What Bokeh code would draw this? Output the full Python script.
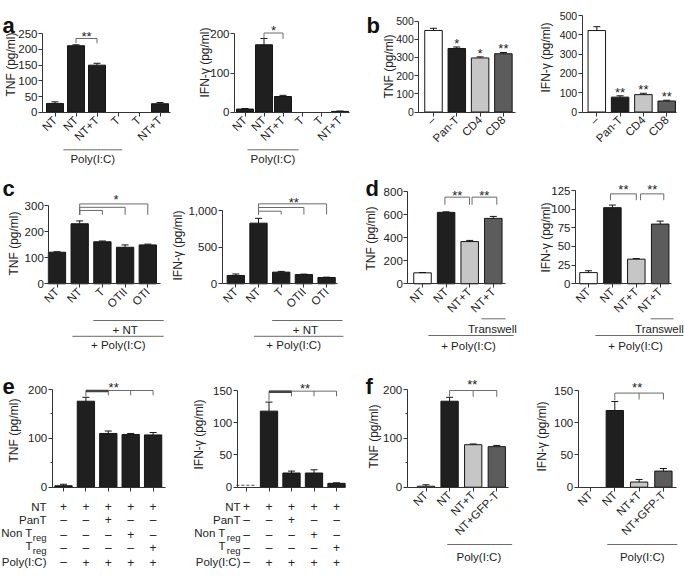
import math
from bokeh.plotting import figure
from bokeh.models import Range1d, FixedTicker, NumeralTickFormatter, CustomJSTickFormatter
from bokeh.layouts import row, column
from bokeh.core.properties import value
from bokeh.embed import file_html
from bokeh.resources import INLINE

# ---------------- data ----------------
a_cats = ["NT", "NT", "NT+T", "T", "T", "NT+T"]
a_tnf = [28, 212, 150, 0, 0, 27]
a_tnf_err = [5, 3, 6, 0, 0, 4]
a_ifn = [8, 172, 40, 0, 0, 2]
a_ifn_err = [1.5, 16, 3, 0, 0, 1]

b_cats = ["–", "Pan-T", "CD4", "CD8"]
b_tnf = [448, 349, 297, 320]
b_tnf_err = [12, 8, 6, 7]
b_tnf_sig = ["", "*", "*", "**"]
b_ifn = [422, 77, 90, 57]
b_ifn_err = [20, 7, 7, 4]
b_ifn_sig = ["", "**", "**", "**"]

c_cats = ["NT", "NT", "T", "OTII", "OTI"]
c_tnf = [121, 230, 161, 140, 149]
c_tnf_err = [2, 11, 3, 9, 3]
c_ifn = [114, 827, 159, 126, 86]
c_ifn_err = [20, 66, 10, 6, 4]

d_cats = ["NT", "NT", "NT+T", "NT+T"]
d_tnf = [95, 619, 366, 567]
d_tnf_err = [3, 5, 10, 17]
d_ifn = [15, 102, 33, 80]
d_ifn_err = [2.5, 3.5, 0.8, 4]

e_cats = ["", "", "", "", ""]
e_tnf = [3, 176, 110, 108, 107]
e_tnf_err = [3, 8, 5, 2, 5]
e_ifn = [3, 118, 22, 22, 6]
e_ifn_err = [0, 14, 3, 5, 0.8]
e_rows = ["NT", "PanT", "Non T", "T", "Poly(I:C)"]
e_rows_sub = ["", "", "reg", "reg", ""]
e_table = [["+", "+", "+", "+", "+"],
           ["–", "–", "+", "–", "–"],
           ["–", "–", "–", "+", "–"],
           ["–", "–", "–", "–", "+"],
           ["–", "+", "+", "+", "+"]]

f_cats = ["NT", "NT", "NT+T", "NT+GFP-T"]
f_tnf = [2, 176, 87, 83]
f_tnf_err = [3, 8, 1.5, 2.5]
f_ifn = [0, 119, 8, 25]
f_ifn_err = [0, 14, 4, 4]

# ---------------- style ----------------
FONT = "Liberation Sans"
INK = "#222222"
AXC = "#333333"
GL = "#6a6a6a"
BLACK = "#1f1f1f"
WHITE = "#ffffff"
LIGHT = "#c6c6c6"
DARK = "#5c5c5c"

ROWS = [0, 170, 372, 577]
COLS = [[0, 185, 358, 533, 685], [0, 168, 350, 533, 685], [0, 185, 350, 533, 685]]


class Panel:
    def __init__(self, r, k, c0, dx, py0, pyV, V, ax_px, xend_px, yticks, ylabel, lab_px,
                 labels, bar_px, yfmt=None, minor=None, tick_size="11.5px"):
        self.c0, self.dx, self.py0 = c0, dx, py0
        self.ppy = (py0 - pyV) / V
        rx0, rx1 = COLS[r][k], COLS[r][k + 1]
        ry0, ry1 = ROWS[r], ROWS[r + 1]
        self.bw = bar_px / dx
        p = figure(width=rx1 - rx0, height=ry1 - ry0,
                   x_range=Range1d(self.X(rx0), self.X(rx1)),
                   y_range=Range1d(self.Y(ry1), self.Y(ry0)),
                   output_backend="svg", toolbar_location=None, tools="", min_border=0)
        p.outline_line_color = None
        p.background_fill_color = "white"
        p.border_fill_color = "white"
        p.xgrid.visible = False
        p.ygrid.visible = False
        self.p = p
        xa = p.xaxis[0]
        ya = p.yaxis[0]
        xa.fixed_location = 0
        xa.bounds = (self.X(ax_px), self.X(xend_px))
        xa.ticker = FixedTicker(ticks=list(range(len(labels))))
        xa.formatter = CustomJSTickFormatter(
            args=dict(labels=list(labels)),
            code="const i = Math.round(tick); return (i >= 0 && i < labels.length) ? labels[i] : '';")
        xa.major_label_orientation = math.pi / 4
        xa.major_label_standoff = 2
        xa.major_tick_out = 4
        xa.major_tick_in = 0
        xa.minor_tick_line_color = None
        xa.axis_line_color = AXC
        xa.major_tick_line_color = AXC
        xa.major_label_text_font = FONT
        xa.major_label_text_font_size = "11.5px"
        xa.major_label_text_color = INK

        ya.fixed_location = self.X(ax_px)
        ya.bounds = (0, yticks[-1])
        ya.ticker = FixedTicker(ticks=list(yticks), minor_ticks=list(minor or []))
        if yfmt:
            ya.formatter = NumeralTickFormatter(format=yfmt)
        ya.major_tick_out = 4
        ya.major_tick_in = 0
        ya.minor_tick_out = 2
        ya.minor_tick_in = 0
        ya.minor_tick_line_color = AXC if minor else None
        ya.axis_line_color = AXC
        ya.major_tick_line_color = AXC
        ya.major_label_standoff = 1
        ya.major_label_text_font = FONT
        ya.major_label_text_font_size = tick_size
        ya.major_label_text_color = INK
        # axis title as rotated text at its place in the reference
        self.p.text(x=[self.X(lab_px[0])], y=[self.Y(lab_px[1])], text=[ylabel],
                    angle=math.pi / 2, text_font=value(FONT), text_font_size=value("12px"),
                    text_align="center", text_baseline="middle", text_color=INK)

    def X(self, px):
        return (px - self.c0) / self.dx

    def Y(self, py):
        return (self.py0 - py) / self.ppy

    def vx(self, px):
        return px / self.dx

    def vy(self, px):
        return px / self.ppy

    def bars(self, vals, errs, colors, skip=()):
        idx = [i for i in range(len(vals)) if vals[i] > 0 and i not in skip]
        self.p.vbar(x=idx, top=[vals[i] for i in idx], bottom=0, width=self.bw,
                    fill_color=[colors[i] for i in idx], line_color="#151515", line_width=1)
        ek = [i for i in range(len(vals)) if errs[i] > 0 and i not in skip]
        top = [vals[i] for i in ek]
        etop = [vals[i] + errs[i] for i in ek]
        self.p.segment(x0=ek, y0=top, x1=ek, y1=etop, line_color="#151515", line_width=1)
        cw = self.vx(3.5)
        self.p.segment(x0=[i - cw for i in ek], y0=etop, x1=[i + cw for i in ek], y1=etop,
                       line_color="#151515", line_width=1)

    def text(self, xs, ys, texts, size="11.5px", align="center", baseline="middle",
             style="normal", color=INK):
        self.p.text(x=xs, y=ys, text=texts, text_font=value(FONT),
                    text_font_size=value(size), text_align=align, text_baseline=baseline,
                    text_font_style=style, text_color=color)

    def star(self, x, yc, s):
        # yc: value at which the glyph centre sits
        self.text([x], [yc - self.vy(3.0)], [s], size="13px", baseline="alphabetic")

    def bar_stars(self, vals, errs, sigs):
        for i, s in enumerate(sigs):
            if s:
                self.star(i, vals[i] + errs[i] + self.vy(6.5), s)

    def bracket(self, xl, yl, ytop, drops, width=1):
        xs = [[xl, xl, max(d[0] for d in drops)]]
        ys = [[yl, ytop, ytop]]
        for (x, yb) in drops:
            xs.append([x, x])
            ys.append([ytop, yb])
        self.p.multi_line(xs=xs, ys=ys, line_color=GL, line_width=width)

    def under(self, label, x0, x1, line_off, tx, text_off):
        y = -self.vy(line_off)
        self.p.line(x=[x0, x1], y=[y, y], line_color=GL, line_width=1)
        self.text([tx], [-self.vy(text_off)], [label])

    def letter(self, ch, px, py):
        self.text([self.X(px)], [self.Y(py)], [ch], size="22px", align="left",
                  baseline="alphabetic", style="bold", color="#111111")


# ---------------- row 1 ----------------
a1 = Panel(0, 0, 54.5, 21.0, 111.7, 33.3, 250, 42, 170, [0, 50, 100, 150, 200, 250],
           "TNF (pg/ml)", (10, 64), a_cats, 17)
a1.bars(a_tnf, a_tnf_err, [BLACK] * 6)
a1.bracket(1, 220, 235, [(2, 220)])
a1.star(1.5, 252, "**")
a1.under("Poly(I:C)", 0.4, 3.2, 37.6, 1.8, 46.3)
a1.letter("a", 2, 25)

a2 = Panel(0, 1, 244.5, 19.0, 111.7, 33.3, 200, 234, 349, [0, 100, 200],
           "IFN-γ (pg/ml)", (204, 62), a_cats, 17)
a2.bars(a_ifn, a_ifn_err, [BLACK] * 6)
a2.bracket(1, 187, 202, [(2, 187)])
a2.star(1.5, 216, "*")
a2.under("Poly(I:C)", 0.13, 2.82, 37.6, 1.47, 46.3)

b_cols = [WHITE, BLACK, LIGHT, DARK]
b1 = Panel(0, 2, 433, 23.3, 111.5, 20.5, 500, 418.3, 515, [0, 100, 200, 300, 400, 500],
           "TNF (pg/ml)", (388, 66), b_cats, 17.5, tick_size="10.5px")
b1.bars(b_tnf, b_tnf_err, b_cols)
b1.bar_stars(b_tnf, b_tnf_err, b_tnf_sig)
b1.letter("b", 366, 25)

b2 = Panel(0, 3, 596.3, 23.3, 111.5, 15, 500, 581.7, 676, [0, 100, 200, 300, 400, 500],
           "IFN-γ (pg/ml)", (545, 57), b_cats, 17.5, tick_size="10.5px")
b2.bars(b_ifn, b_ifn_err, b_cols)
b2.bar_stars(b_ifn, b_ifn_err, b_ifn_sig)

# ---------------- row 2 ----------------
c1 = Panel(1, 0, 56.5, 22.7, 283.3, 205, 300, 48.3, 160, [0, 100, 200, 300],
           "TNF (pg/ml)", (13, 243), c_cats, 17.3)
c1.bars(c_tnf, c_tnf_err, [BLACK] * 5)
c1.bracket(1, 264, 306, [(4, 264)])
c1.bracket(1, 264, 293, [(3, 264)])
c1.bracket(1, 264, 281, [(2, 264)])
c1.star(2.6, 336, "*")
c1.under("+ NT", 1.6, 4.7, 36.7, 3.0, 45.7)
c1.under("+ Poly(I:C)", 0.68, 4.7, 52.5, 2.7, 61.0)
c1.letter("c", 2, 188)

c2 = Panel(1, 1, 235.3, 22.7, 283.3, 210, 1000, 221.7, 337, [0, 500, 1000],
           "IFN-γ (pg/ml)", (177, 245), c_cats, 17.3, yfmt="0,0")
c2.bars(c_ifn, c_ifn_err, [BLACK] * 5)
c2.bracket(1, 945, 1091, [(4, 945)])
c2.bracket(1, 945, 1041, [(3, 945)])
c2.bracket(1, 945, 990, [(2, 945)])
c2.star(2.55, 1155, "**")
c2.under("+ NT", 1.6, 4.7, 36.7, 3.07, 45.7)
c2.under("+ Poly(I:C)", 0.8, 4.74, 52.5, 2.55, 61.0)

d_cols = [WHITE, BLACK, LIGHT, DARK]
d1 = Panel(1, 2, 422, 23.6, 283.3, 191, 800, 407.3, 505, [0, 200, 400, 600, 800],
           "TNF (pg/ml)", (370, 238), d_cats, 17.5)
d1.bars(d_tnf, d_tnf_err, d_cols)
d1.bracket(0.95, 685, 751, [(1.99, 685)])
d1.bracket(2.1, 685, 751, [(3.15, 685)])
d1.star(1.47, 795, "**")
d1.star(2.62, 795, "**")
d1.under("Transwell", 2.5, 3.52, 35, 2.96, 45)
d1.under("+ Poly(I:C)", 0.25, 3.86, 51.7, 1.95, 62.4)
d1.letter("d", 365, 188)

d2 = Panel(1, 3, 588, 23.9, 283.3, 190, 125, 575, 671, [0, 25, 50, 75, 100, 125],
           "IFN-γ (pg/ml)", (545, 237), d_cats, 17.5)
d2.bars(d_ifn, d_ifn_err, d_cols)
d2.bracket(0.92, 112, 120.5, [(2.0, 112)])
d2.bracket(2.18, 112, 120.5, [(3.15, 112)])
d2.star(1.46, 130, "**")
d2.star(2.67, 130, "**")
d2.under("Transwell", 2.6, 3.56, 35, 2.97, 45)
d2.under("+ Poly(I:C)", 0.29, 3.97, 51.7, 1.97, 62.4)

# ---------------- row 3 ----------------
e_offs = [19.3, 32.6, 45.5, 58.5, 75]


def table(P, label_x, sub_w):
    for r in range(len(e_rows)):
        y = -P.vy(e_offs[r])
        if e_rows_sub[r]:
            P.text([label_x - P.vx(sub_w)], [y], [e_rows[r]], size="11.5px", align="right")
            P.text([label_x], [y - P.vy(4.5)], [e_rows_sub[r]], size="9.5px", align="right")
            ys = y - P.vy(2)
        else:
            P.text([label_x], [y], [e_rows[r]], size="11.5px", align="right")
            ys = y
        P.text(list(range(5)), [ys] * 5, e_table[r], size="12px")


e1 = Panel(2, 0, 63, 22.4, 486.7, 389, 200, 51.7, 165, [0, 100, 200],
           "TNF (pg/ml)", (13, 430), e_cats, 17.3, minor=[50, 150])
e1.bars(e_tnf, e_tnf_err, [BLACK] * 5)
e1.bracket(1, 186, 198, [(2, 188), (3, 188), (4, 188)])
e1.p.line(x=[1, 2], y=[197, 197], line_color="#444444", line_width=2.5)
e1.star(2.24, 210, "**")
table(e1, e1.X(46), 14)
e1.letter("e", 2, 386)

e2 = Panel(2, 1, 246, 22.5, 486.7, 390, 150, 236.7, 345, [0, 50, 100, 150],
           "IFN-γ (pg/ml)", (198.3, 434), e_cats, 17.3)
e2.bars(e_ifn, e_ifn_err, [BLACK] * 5, skip=(0,))
e2.p.line(x=[-0.45, 0.45], y=[e_ifn[0], e_ifn[0]], line_color="#444444", line_width=1,
          line_dash="3 2")
e2.bracket(1, 134, 149, [(2, 141), (3, 141), (4, 141)])
e2.p.line(x=[1, 2], y=[148.2, 148.2], line_color="#444444", line_width=2.5)
e2.star(2.6, 158, "**")
table(e2, e2.X(240), 15)

f_cols = [WHITE, BLACK, LIGHT, DARK]
f1 = Panel(2, 2, 425.5, 23.6, 486.7, 389, 200, 406.7, 508, [0, 100, 200],
           "TNF (pg/ml)", (373, 436), f_cats, 17.3, minor=[50, 150])
f1.bars(f_tnf, f_tnf_err, f_cols)
f1.bracket(1, 186, 198, [(2, 185), (3, 185)])
f1.star(1.96, 216, "**")
f1.under("Poly(I:C)", 0.9, 3.65, 57.3, 2.24, 70)
f1.letter("f", 365, 386)

f2 = Panel(2, 3, 590, 24.3, 486.7, 390, 150, 577.7, 676, [0, 50, 100, 150],
           "IFN-γ (pg/ml)", (541.7, 436), f_cats, 17.3)
f2.bars(f_ifn, f_ifn_err, f_cols)
f2.bracket(1, 135, 146, [(2, 136), (3, 136)])
f2.star(1.92, 159, "**")
f2.under("Poly(I:C)", 0.69, 3.57, 57.3, 2.13, 70)

layout = column(row(a1.p, a2.p, b1.p, b2.p),
                row(c1.p, c2.p, d1.p, d2.p),
                row(e1.p, e2.p, f1.p, f2.p))

open("out.html", "w").write(file_html(layout, INLINE, title="Cytokine panels"))
